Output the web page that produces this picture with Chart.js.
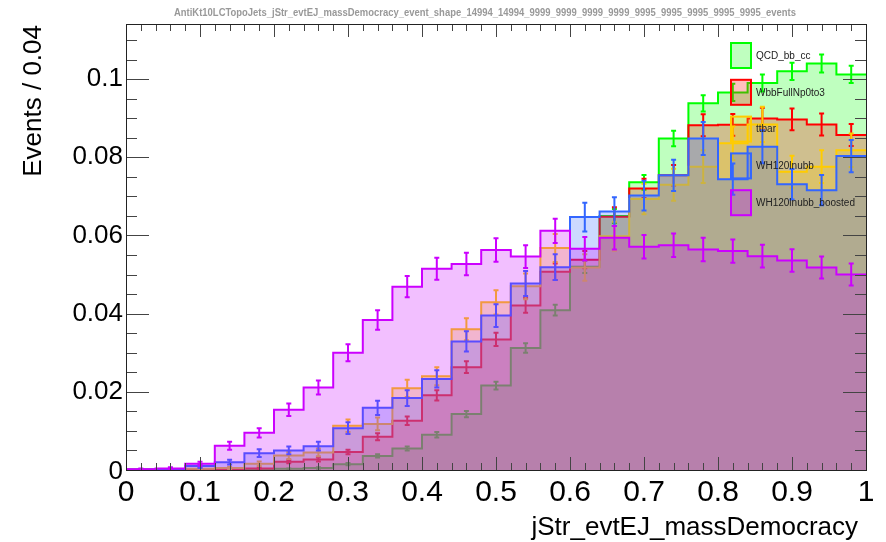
<!DOCTYPE html>
<html>
<head>
<meta charset="utf-8">
<title>jStr_evtEJ_massDemocracy</title>
<script src="https://cdn.jsdelivr.net/npm/chart.js@4.4.1/dist/chart.umd.min.js"></script>
<style>
  html, body { margin: 0; padding: 0; background: #fff; }
  canvas { display: block; }
</style>
</head>
<body>
<canvas id="c" width="886" height="542"></canvas>
<script>
// bins of jStr_evtEJ_massDemocracy, width 0.04
var binWidth = 0.04;
var binLow = [0, 0.04, 0.08, 0.12, 0.16, 0.2, 0.24, 0.28, 0.32, 0.36, 0.4, 0.44, 0.48,
              0.52, 0.56, 0.6, 0.64, 0.68, 0.72, 0.76, 0.8, 0.84, 0.88, 0.92, 0.96];

var names = ['QCD_bb_cc', 'WbbFullNp0to3', 'ttbar', 'WH120lnubb', 'WH120lnubb_boosted'];
var colors = ['#00ff00', '#ff0000', '#ffcc00', '#3366ff', '#cc00ff'];
var fills = ['rgba(0,255,0,0.25)', 'rgba(255,0,0,0.25)', 'rgba(255,204,0,0.25)',
             'rgba(51,102,255,0.25)', 'rgba(204,0,255,0.25)'];

var qcd = [0, 0, 0, 0.0001, 0.0001, 0.0003, 0.0005, 0.0015, 0.0036, 0.0055, 0.0090, 0.0143, 0.0216,
           0.0312, 0.0409, 0.0520, 0.0650, 0.0736, 0.0848, 0.0938, 0.0966, 0.0990, 0.1020, 0.1040, 0.1012];
var qcdErr = [0, 0, 0, 0.0001, 0.0001, 0.0001, 0.0002, 0.0003, 0.0004, 0.0005, 0.0007, 0.0008, 0.0010,
              0.0012, 0.0014, 0.0016, 0.0018, 0.0019, 0.0020, 0.0021, 0.0022, 0.0022, 0.0022, 0.0023, 0.0022];

var wbb = [0.0001, 0.0001, 0.0002, 0.0002, 0.0004, 0.0021, 0.0027, 0.0046, 0.0085, 0.0126, 0.0191, 0.0263, 0.0334,
           0.0421, 0.0507, 0.0538, 0.0648, 0.0720, 0.0754, 0.0882, 0.0883, 0.0899, 0.0897, 0.0884, 0.0857];
var wbbErr = [0.0001, 0.0001, 0.0001, 0.0001, 0.0002, 0.0004, 0.0005, 0.0006, 0.0009, 0.0011, 0.0013, 0.0015, 0.0017,
              0.0019, 0.0021, 0.0022, 0.0024, 0.0025, 0.0026, 0.0028, 0.0028, 0.0028, 0.0028, 0.0028, 0.0028];

var ttbar = [0, 0.0001, 0.0003, 0.0005, 0.0016, 0.0037, 0.0045, 0.0113, 0.0118, 0.0209, 0.0240, 0.0360, 0.0429,
             0.0470, 0.0568, 0.0518, 0.0598, 0.0693, 0.0730, 0.0776, 0.0836, 0.0884, 0.0763, 0.0776, 0.0818];
var ttbarErr = [0, 0.0002, 0.0003, 0.0003, 0.0006, 0.0009, 0.0010, 0.0016, 0.0016, 0.0022, 0.0023, 0.0028, 0.0031,
                0.0033, 0.0036, 0.0034, 0.0037, 0.0039, 0.0041, 0.0042, 0.0043, 0.0045, 0.0041, 0.0042, 0.0043];

var wh = [0.0001, 0.0002, 0.0010, 0.0020, 0.0043, 0.0050, 0.0061, 0.0107, 0.0159, 0.0184, 0.0233, 0.0329, 0.0395,
          0.0477, 0.0519, 0.0647, 0.0661, 0.0702, 0.0754, 0.0848, 0.0744, 0.0827, 0.0731, 0.0716, 0.0803];
var whErr = [0.0001, 0.0002, 0.0005, 0.0006, 0.0010, 0.0010, 0.0011, 0.0015, 0.0018, 0.0020, 0.0022, 0.0026, 0.0029,
             0.0032, 0.0033, 0.0037, 0.0037, 0.0038, 0.0040, 0.0042, 0.0040, 0.0042, 0.0039, 0.0039, 0.0041];

var whBoosted = [0.0002, 0.0004, 0.0016, 0.0062, 0.0095, 0.0154, 0.0211, 0.0300, 0.0384, 0.0469, 0.0515, 0.0527, 0.0563,
                 0.0546, 0.0612, 0.0566, 0.0594, 0.0571, 0.0575, 0.0564, 0.0560, 0.0547, 0.0536, 0.0518, 0.0500];
var whBoostedErr = [0.0002, 0.0003, 0.0005, 0.0010, 0.0012, 0.0016, 0.0018, 0.0022, 0.0025, 0.0027, 0.0028, 0.0029, 0.0030,
                    0.0029, 0.0031, 0.0030, 0.0030, 0.0030, 0.0030, 0.0030, 0.0030, 0.0029, 0.0029, 0.0028, 0.0028];

var xTickValues = [0, 0.1, 0.2, 0.3, 0.4, 0.5, 0.6, 0.7, 0.8, 0.9, 1];
var xTickLabels = ['0', '0.1', '0.2', '0.3', '0.4', '0.5', '0.6', '0.7', '0.8', '0.9', '1'];
var yTickValues = [0, 0.02, 0.04, 0.06, 0.08, 0.1];
var yTickLabels = ['0', '0.02', '0.04', '0.06', '0.08', '0.1'];

var titleText = 'AntiKt10LCTopoJets_jStr_evtEJ_massDemocracy_event_shape_14994_14994_9999_9999_9999_9999_9995_9995_9995_9995_9995_events';
var xTitle = 'jStr_evtEJ_massDemocracy';
var yTitle = 'Events / 0.04';

var allValues = [qcd, wbb, ttbar, wh, whBoosted];
var allErrors = [qcdErr, wbbErr, ttbarErr, whErr, whBoostedErr];

// stepped points: one per bin low edge, plus the closing edge at 1
function histPoints(vals) {
    var pts = [];
    for (var i = 0; i < binLow.length; i++) {
        pts.push({ x: binLow[i], y: vals[i] });
    }
    pts.push({ x: binLow[binLow.length - 1] + binWidth, y: vals[vals.length - 1] });
    return pts;
}

var datasets = [];
for (var s = 0; s < names.length; s++) {
    datasets.push({
        label: names[s],
        data: histPoints(allValues[s]),
        borderColor: colors[s],
        backgroundColor: fills[s],
        borderWidth: 2,
        pointRadius: 0,
        stepped: 'before',
        fill: 'origin',
        order: names.length - s   // first series drawn at the back
    });
}

// error bars, drawn with each histogram so later fills go over them
var errorBars = {
    id: 'errorBars',
    afterDatasetDraw: function(chart, args) {
        var i = args.index;
        var vals = allValues[i], errs = allErrors[i];
        var xs = chart.scales.x, ys = chart.scales.y;
        var ctx = chart.ctx;
        ctx.save();
        ctx.strokeStyle = colors[i];
        ctx.lineWidth = 2;
        ctx.beginPath();
        for (var b = 0; b < vals.length; b++) {
            if (vals[b] <= 0) continue;
            var xc = xs.getPixelForValue(binLow[b] + binWidth / 2);
            var y1 = ys.getPixelForValue(vals[b] + errs[b]);
            var y2 = ys.getPixelForValue(Math.max(vals[b] - errs[b], 0));
            ctx.moveTo(xc, y1); ctx.lineTo(xc, y2);
            ctx.moveTo(xc - 2.5, y1); ctx.lineTo(xc + 2.5, y1);
            ctx.moveTo(xc - 2.5, y2); ctx.lineTo(xc + 2.5, y2);
        }
        ctx.stroke();
        ctx.restore();
    }
};

// ROOT style frame, inner ticks, labels, titles and legend
var rootFrame = {
    id: 'rootFrame',
    afterDraw: function(chart) {
        var ctx = chart.ctx;
        var a = chart.chartArea;
        var xs = chart.scales.x, ys = chart.scales.y;
        var i, p, v;
        ctx.save();

        // ticks
        ctx.strokeStyle = '#444';
        ctx.lineWidth = 1;
        ctx.beginPath();
        for (i = 0; i <= 50; i++) {
            v = i * 0.02;
            p = Math.round(xs.getPixelForValue(v)) + 0.5;
            var lx = (i % 5 === 0) ? 13 : 7;
            ctx.moveTo(p, a.bottom); ctx.lineTo(p, a.bottom - lx);
            ctx.moveTo(p, a.top); ctx.lineTo(p, a.top + lx);
        }
        for (i = 0; i * 0.005 <= ys.max; i++) {
            v = i * 0.005;
            p = Math.round(ys.getPixelForValue(v)) + 0.5;
            var ly = (i % 4 === 0) ? 23 : 11;
            ctx.moveTo(a.left, p); ctx.lineTo(a.left + ly, p);
            ctx.moveTo(a.right, p); ctx.lineTo(a.right - ly, p);
        }
        ctx.stroke();

        // frame
        ctx.strokeStyle = '#222';
        ctx.strokeRect(Math.round(a.left) + 0.5, Math.round(a.top) + 0.5,
                       Math.round(a.right - a.left), Math.round(a.bottom - a.top));

        // tick labels
        ctx.fillStyle = '#000';
        ctx.font = '26px "Liberation Sans", Arial, sans-serif';
        ctx.textAlign = 'right';
        ctx.textBaseline = 'middle';
        for (i = 0; i < yTickValues.length; i++) {
            p = ys.getPixelForValue(yTickValues[i]);
            ctx.fillText(yTickLabels[i], a.left - 3, p + (i === 0 ? 2 : 0));
        }
        ctx.font = '30px "Liberation Sans Narrow", "Liberation Sans", sans-serif';
        ctx.textAlign = 'center';
        ctx.textBaseline = 'alphabetic';
        for (i = 0; i < xTickValues.length; i++) {
            p = xs.getPixelForValue(xTickValues[i]);
            ctx.fillText(xTickLabels[i], p, a.bottom + 31);
        }

        // axis titles
        ctx.font = '26px "Liberation Sans", Arial, sans-serif';
        ctx.textAlign = 'right';
        ctx.fillText(xTitle, a.right - 8, 535);
        ctx.save();
        ctx.translate(41, a.top + 1);
        ctx.rotate(-Math.PI / 2);
        ctx.textAlign = 'right';
        ctx.fillText(yTitle, 0, 0);
        ctx.restore();

        // title
        ctx.save();
        ctx.font = 'bold 11px "Liberation Sans Narrow", "Liberation Sans", sans-serif';
        ctx.fillStyle = '#999';
        ctx.textAlign = 'center';
        var tw = ctx.measureText(titleText).width;
        ctx.translate(485, 16);
        ctx.scale(622 / tw, 1);
        ctx.fillText(titleText, 0, 0);
        ctx.restore();

        // legend
        ctx.font = '10px "Liberation Sans", Arial, sans-serif';
        ctx.textAlign = 'left';
        ctx.textBaseline = 'middle';
        for (i = 0; i < names.length; i++) {
            var bx = 731, by = 43 + i * 36.8;
            ctx.fillStyle = fills[i];
            ctx.fillRect(bx, by, 20, 25);
            ctx.strokeStyle = colors[i];
            ctx.lineWidth = 2;
            ctx.strokeRect(bx, by, 20, 25);
            ctx.fillStyle = '#222';
            ctx.fillText(names[i], 756, by + 13);
        }
        ctx.restore();
    }
};

new Chart(document.getElementById('c').getContext('2d'), {
    type: 'line',
    data: { datasets: datasets },
    options: {
        responsive: false,
        animation: false,
        devicePixelRatio: 1,
        layout: { padding: { left: 126, right: 20, top: 24, bottom: 72 } },
        plugins: { legend: { display: false }, tooltip: { enabled: false } },
        scales: {
            x: { type: 'linear', min: 0, max: 1, display: false },
            y: { type: 'linear', min: 0, max: 0.1141, display: false }
        }
    },
    plugins: [errorBars, rootFrame]
});
</script>
</body>
</html>
